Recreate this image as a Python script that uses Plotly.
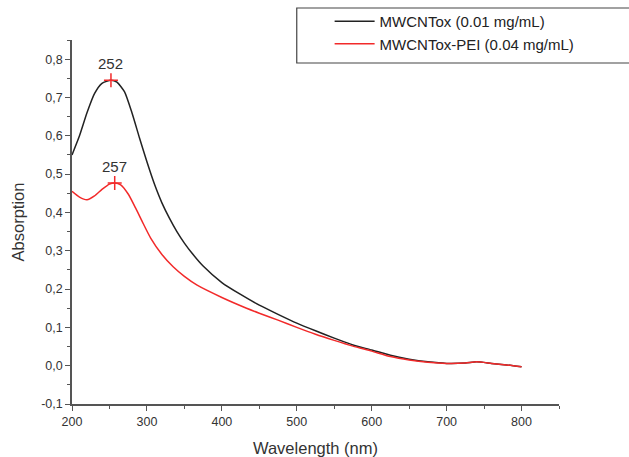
import plotly.graph_objects as go

# UV-Vis absorption spectra
wl_ox = [200, 210, 220, 230, 240, 252, 260, 270, 280, 290, 300, 310, 320, 330,
         340, 350, 360, 375, 400, 425, 450, 475, 500, 525, 550, 575, 600, 625,
         650, 675, 700, 725, 740, 760, 780, 800]
abs_ox = [0.55, 0.60, 0.66, 0.71, 0.737, 0.745, 0.74, 0.715, 0.66, 0.595, 0.532,
          0.474, 0.425, 0.385, 0.350, 0.320, 0.294, 0.260, 0.217, 0.186, 0.158,
          0.134, 0.111, 0.091, 0.072, 0.054, 0.041, 0.027, 0.017, 0.010, 0.006,
          0.007, 0.010, 0.006, 0.002, -0.003]

wl_pei = [200, 210, 220, 230, 240, 250, 257, 265, 275, 285, 295, 305, 320, 335,
          350, 367, 400, 433, 450, 475, 500, 525, 550, 575, 600, 625, 650, 675,
          700, 725, 740, 760, 780, 800]
abs_pei = [0.455, 0.44, 0.433, 0.443, 0.46, 0.474, 0.477, 0.472, 0.448, 0.411,
           0.371, 0.333, 0.290, 0.258, 0.233, 0.210, 0.178, 0.150, 0.137, 0.119,
           0.100, 0.082, 0.066, 0.051, 0.038, 0.024, 0.015, 0.009, 0.006, 0.007,
           0.010, 0.006, 0.002, -0.003]

names = ["MWCNTox (0.01 mg/mL)", "MWCNTox-PEI (0.04 mg/mL)"]
peak_wl = [252, 257]
peak_abs = [0.745, 0.477]

x_ticks = [200, 300, 400, 500, 600, 700, 800]
y_ticks = [-0.1, 0.0, 0.1, 0.2, 0.3, 0.4, 0.5, 0.6, 0.7, 0.8]
y_labels = ["-0,1", "0,0", "0,1", "0,2", "0,3", "0,4", "0,5", "0,6", "0,7", "0,8"]

BLACK = "#222222"
RED = "#f22a2a"
FONT = "Liberation Sans, Arial"

fig = go.Figure()
fig.add_trace(go.Scatter(x=wl_ox, y=abs_ox, mode="lines", name=names[0],
                         line=dict(color=BLACK, width=1.5, shape="spline", smoothing=0.6)))
fig.add_trace(go.Scatter(x=wl_pei, y=abs_pei, mode="lines", name=names[1],
                         line=dict(color=RED, width=1.5, shape="spline", smoothing=0.6)))
# peak markers
fig.add_trace(go.Scatter(x=peak_wl, y=peak_abs, mode="markers", showlegend=False,
                         marker=dict(symbol="cross-thin", size=10,
                                     line=dict(color=RED, width=1.5))))
for w, a in zip(peak_wl, peak_abs):
    fig.add_annotation(x=w, y=a, text=str(w), showarrow=False, yanchor="bottom",
                       yshift=6, font=dict(family=FONT, size=15, color="#333333"))

axis_common = dict(showline=True, linecolor="#555555", linewidth=1.5, showgrid=False,
                   zeroline=False, ticks="outside", ticklen=5, tickwidth=1.2,
                   tickcolor="#555555", mirror=False, automargin=False,
                   tickfont=dict(family=FONT, size=12.5, color="#333333"),
                   title_font=dict(family=FONT, size=16.5, color="#333333"))

fig.update_xaxes(range=[200, 850], tickvals=x_ticks, ticktext=[str(v) for v in x_ticks],
                 minor=dict(ticks="outside", dtick=50, tick0=200, ticklen=3, tickcolor="#555555"),
                 title_text="Wavelength (nm)", title_standoff=15, **axis_common)
fig.update_yaxes(range=[-0.1, 0.85], tickvals=y_ticks, ticktext=y_labels,
                 minor=dict(ticks="outside", dtick=0.05, tick0=-0.1, ticklen=3, tickcolor="#555555"),
                 title_text="Absorption", title_standoff=12, **axis_common)

# legend frame
fig.add_shape(type="rect", xref="paper", yref="paper", x0=0.4615, x1=1.2,
              y0=(404 - 63) / 364, y1=(404 - 8) / 364,
              line=dict(color="#444444", width=1.2), fillcolor="rgba(0,0,0,0)")

fig.update_layout(
    width=629, height=457,
    margin=dict(l=72, r=69.5, t=40, b=53, autoexpand=False),
    paper_bgcolor="white", plot_bgcolor="white",
    font=dict(family=FONT, color="#333333"),
    legend=dict(x=0.529, y=1.096, xanchor="left", yanchor="top", itemwidth=40,
                bgcolor="rgba(0,0,0,0)", borderwidth=0,
                font=dict(family=FONT, size=15, color="#222222")),
)

fig.write_html("out.html")
